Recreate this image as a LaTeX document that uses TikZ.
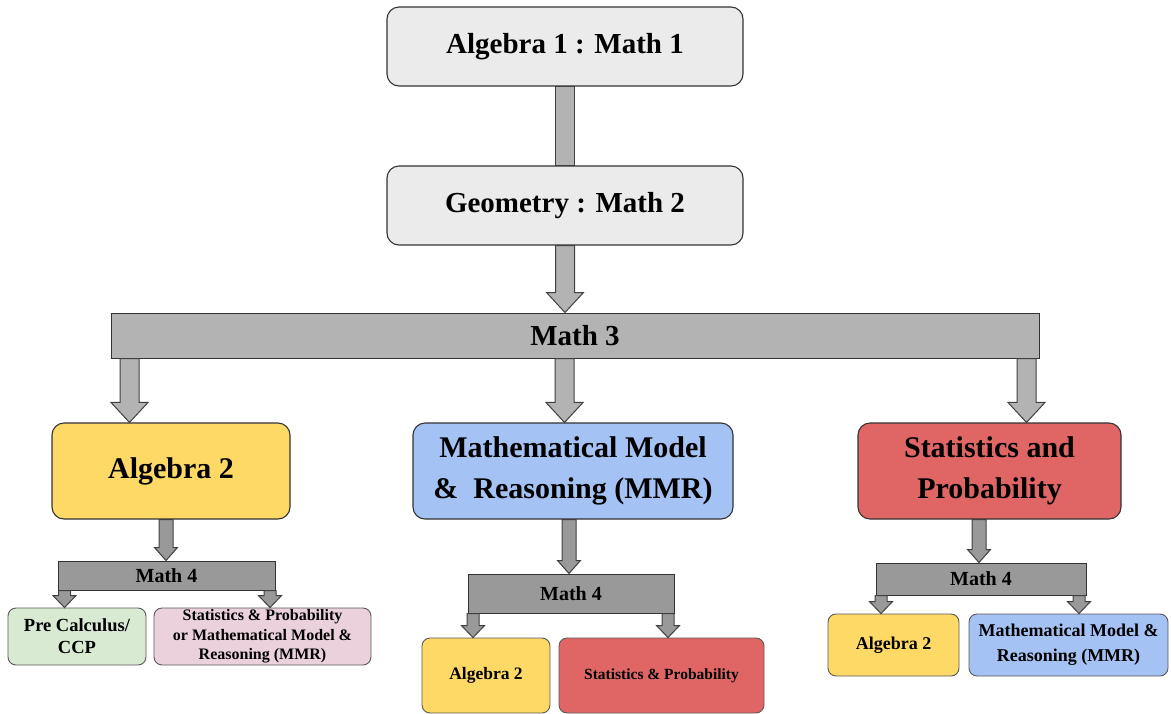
\documentclass[tikz,border=0pt]{standalone}
\usepackage{fontspec}
\setmainfont{Liberation Serif}
\usetikzlibrary{calc}

\definecolor{boxgray}{HTML}{EBEBEB}
\definecolor{bargray}{HTML}{B3B3B3}
\definecolor{subgray}{HTML}{999999}
\definecolor{algyellow}{HTML}{FFD966}
\definecolor{mmrblue}{HTML}{A4C2F4}
\definecolor{statred}{HTML}{E06666}
\definecolor{pregreen}{HTML}{D9EAD3}
\definecolor{spmpink}{HTML}{EAD1DC}

\tikzset{
  card/.style={draw=black!80, line width=1.1pt, rounded corners=12pt, inner sep=0pt, align=center},
  smallcard/.style={draw=black!65, line width=0.9pt, rounded corners=8pt, inner sep=0pt, align=center},
  bar/.style={draw=black!80, line width=1pt, inner sep=0pt},
  fat/.style={draw=black!75, fill=bargray, line width=1pt},
  bigtext/.style={font=\bfseries\fontsize{30}{41}\selectfont},
}

% block arrow: from node, to node, x of the tip
\newcommand\fatarrow[4][]{%
  \draw[fat,#1] let \p1=(#2), \p2=(#3) in
    (#4pt-\sw pt,\y1) -- (#4pt-\sw pt,\y2+\hl pt) -- (#4pt-\hw pt,\y2+\hl pt) -- (#4pt,\y2)
    -- (#4pt+\hw pt,\y2+\hl pt) -- (#4pt+\sw pt,\y2+\hl pt) -- (#4pt+\sw pt,\y1) -- cycle;}

\begin{document}
\begin{tikzpicture}[x=1pt,y=-1pt]
  \useasboundingbox (0,0) rectangle (1171,713);

% main column
  \node[card, fill=boxgray, font=\bfseries\fontsize{29}{29}\selectfont, minimum width=356pt, minimum height=79pt] (alg1) at (565,46.5) {Algebra 1 : Math 1};
  \node[card, fill=boxgray, font=\bfseries\fontsize{29}{29}\selectfont, minimum width=356pt, minimum height=79pt] (geo) at (565,205.5) {Geometry : Math 2};
  \node[bar, fill=bargray, font=\bfseries\fontsize{29}{29}\selectfont, minimum width=928pt, minimum height=45pt] (m3) at (575,335.5) {Math 3};

% second level
  \node[card, fill=algyellow, bigtext, minimum width=238pt, minimum height=96pt] (alg2) at (171,471) {Algebra 2};
  \node[card, fill=mmrblue, bigtext, minimum width=320pt, minimum height=96pt] (mmr) at (573,471) {Mathematical Model\\\&\ \ Reasoning (MMR)};
  \node[card, fill=statred, bigtext, minimum width=263pt, minimum height=96pt] (stat) at (989.5,471) {Statistics and\\Probability};

% math 4 bars
  \node[bar, fill=subgray, font=\bfseries\fontsize{20}{20}\selectfont, minimum width=217pt, minimum height=29pt] (m4a) at (166.5,575.5) {Math 4};
  \node[bar, fill=subgray, font=\bfseries\fontsize{20}{20}\selectfont, minimum width=206pt, minimum height=39pt] (m4b) at (571,593.5) {Math 4};
  \node[bar, fill=subgray, font=\bfseries\fontsize{20}{20}\selectfont, minimum width=210pt, minimum height=32pt] (m4c) at (981,579) {Math 4};

% leaves
  \node[smallcard, fill=pregreen, font=\bfseries\fontsize{18.5}{22}\selectfont, minimum width=138pt, minimum height=57pt] (pre) at (77,636.5) {Pre Calculus/\\CCP};
  \node[smallcard, fill=spmpink, font=\bfseries\fontsize{16}{19.5}\selectfont, minimum width=217pt, minimum height=57pt] (spm) at (262.5,636.5) {Statistics \& Probability\\or Mathematical Model \&\\Reasoning (MMR)};
  \node[smallcard, fill=algyellow, font=\bfseries\fontsize{17.5}{22}\selectfont, minimum width=128pt, minimum height=75pt] (alg2b) at (486,675.5) {Algebra 2};
  \node[smallcard, fill=statred, font=\bfseries\fontsize{15.5}{20}\selectfont, minimum width=205pt, minimum height=75pt] (spb) at (661.5,675.5) {Statistics \& Probability};
  \node[smallcard, fill=algyellow, font=\bfseries\fontsize{18}{22}\selectfont, minimum width=131pt, minimum height=62pt] (alg2c) at (893.5,645) {Algebra 2};
  \node[smallcard, fill=mmrblue, font=\bfseries\fontsize{18}{25}\selectfont, minimum width=199pt, minimum height=62pt] (mmrc) at (1068.5,645) {Mathematical Model \&\\Reasoning (MMR)};

% main arrows
  \draw[fat] let \p1=(alg1.south), \p2=(geo.north) in (\x1-9.5pt,\y1) rectangle (\x1+9.5pt,\y2);
  \pgfmathsetmacro\sw{9.5}
  \pgfmathsetmacro\hw{18.5}
  \pgfmathsetmacro\hl{20}
  \fatarrow{geo.south}{m3.north}{565}
  \fatarrow{m3.south}{alg2.north}{129.5}
  \fatarrow{m3.south}{mmr.north}{564.5}
  \fatarrow{m3.south}{stat.north}{1026.5}

% arrows into math 4
  \pgfmathsetmacro\sw{7}
  \pgfmathsetmacro\hw{11.5}
  \pgfmathsetmacro\hl{13}
  \fatarrow[fill=subgray]{alg2.south}{m4a.north}{166}
  \fatarrow[fill=subgray]{mmr.south}{m4b.north}{569}
  \fatarrow[fill=subgray]{stat.south}{m4c.north}{979}

% arrows out of math 4
  \pgfmathsetmacro\sw{6}
  \pgfmathsetmacro\hw{11.5}
  \pgfmathsetmacro\hl{12}
  \fatarrow[fill=subgray]{m4a.south}{pre.north}{64.5}
  \fatarrow[fill=subgray]{m4a.south}{spm.north}{270}
  \fatarrow[fill=subgray]{m4b.south}{alg2b.north}{473}
  \fatarrow[fill=subgray]{m4b.south}{spb.north}{668}
  \fatarrow[fill=subgray]{m4c.south}{alg2c.north}{881}
  \fatarrow[fill=subgray]{m4c.south}{mmrc.north}{1079}

\end{tikzpicture}
\end{document}
